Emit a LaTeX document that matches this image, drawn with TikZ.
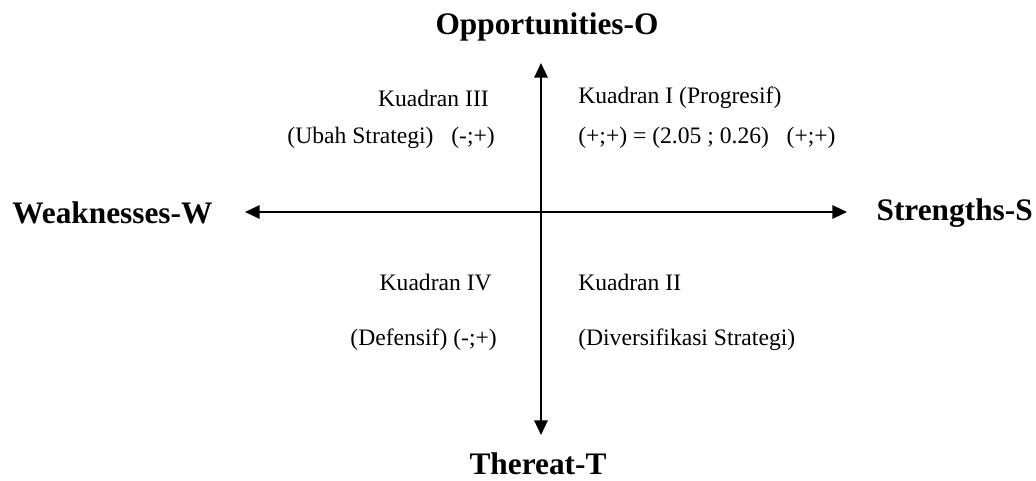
\documentclass[tikz,border=0pt]{standalone}
\usepackage{fontspec}
\setmainfont{Liberation Serif}
\usetikzlibrary{arrows.meta}

\begin{document}
\begin{tikzpicture}[x=0.75pt, y=-0.75pt,
    axis/.style={line width=1.6pt, -{Triangle[width=10pt, length=11pt]}},
    axislabel/.style={font=\fontsize{23.5}{28}\selectfont\bfseries, inner sep=0pt},
    quadtext/.style={font=\fontsize{17.7}{21}\selectfont, inner sep=0pt}]
  % canvas
  \useasboundingbox (0,0) rectangle (1036,481);
  % axis ends
  \coordinate (origin) at (541,212);
  \coordinate (north) at (541,63);
  \coordinate (south) at (541,435);
  \coordinate (west) at (245,212);
  \coordinate (east) at (847,212);
  \draw[axis] (origin) -- (north);
  \draw[axis] (origin) -- (south);
  \draw[axis] (origin) -- (west);
  \draw[axis] (origin) -- (east);
  % axis labels
  \node[axislabel] (opp) at (547,27) {Opportunities-O};
  \node[axislabel] (thr) at (538,464) {Thereat-T};
  \node[axislabel, anchor=west] (weak) at (12,213) {Weaknesses-W};
  \node[axislabel, anchor=east] (str) at (1033,213) {Strengths-S};
  % left quadrants
  \node[quadtext, anchor=east] (k3) at (489,98) {Kuadran III};
  \node[quadtext, anchor=east] (k3s) at (495,138) {(Ubah Strategi)\hspace{0.75em}(-;+)};
  \node[quadtext, anchor=east] (k4) at (492,282) {Kuadran IV};
  \node[quadtext, anchor=east] (k4s) at (497,340) {(Defensif) (-;+)};
  % right quadrants
  \node[quadtext, anchor=west] (k1) at (578,98) {Kuadran I (Progresif)};
  \node[quadtext, anchor=west] (k1s) at (578,138) {(+;+) = (2.05 ; 0.26)\hspace{0.75em}(+;+)};
  \node[quadtext, anchor=west] (k2) at (578,282) {Kuadran II};
  \node[quadtext, anchor=west] (k2s) at (578,340) {(Diversifikasi Strategi)};
\end{tikzpicture}
\end{document}
